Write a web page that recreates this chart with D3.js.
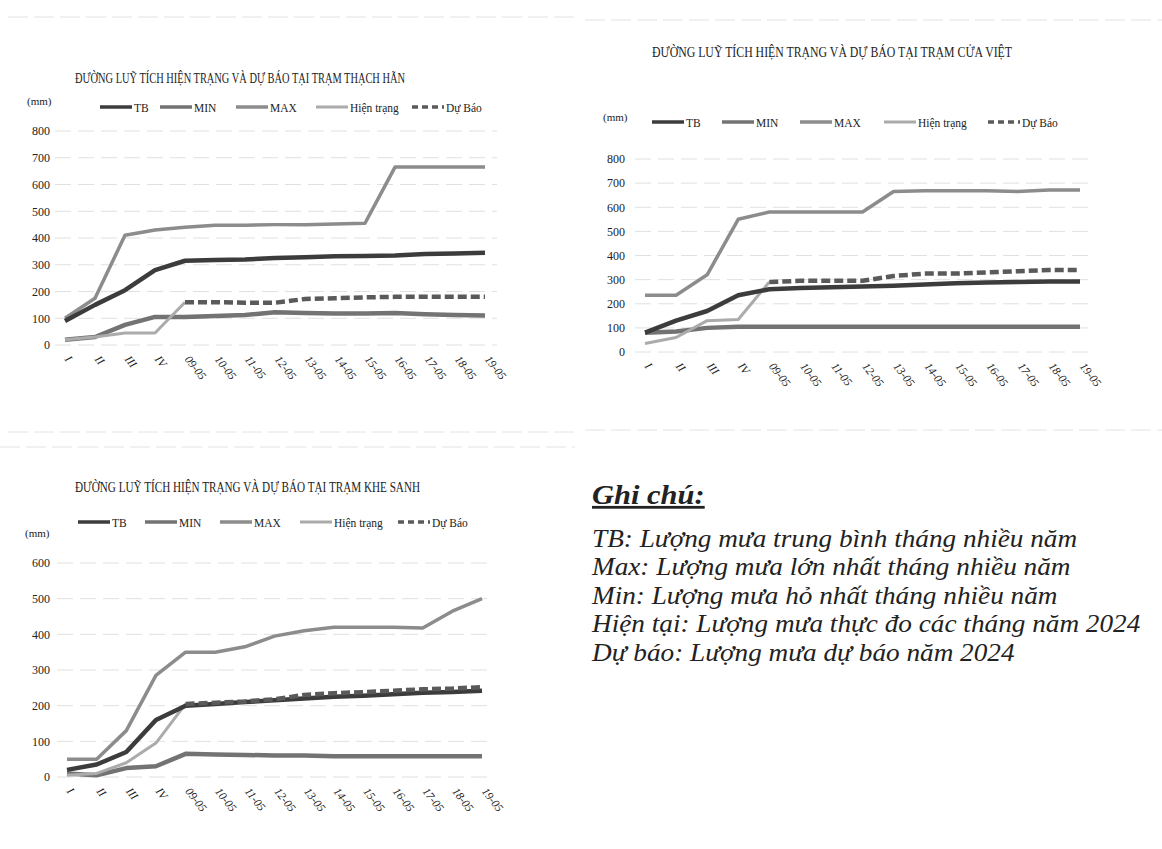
<!DOCTYPE html>
<html>
<head>
<meta charset="UTF-8" />
<title>Đường luỹ tích hiện trạng và dự báo</title>
<script src="https://cdn.jsdelivr.net/npm/d3@7"></script>
<style>
  body { margin: 0; background: #fff; }
  svg { display: block; }
  svg text { font-family: "Liberation Serif", "DejaVu Serif", serif; fill: #222; }
</style>
</head>
<body>
<svg width="1162" height="849"></svg>
<script>
// categories (months I-IV, then days of May)
const categories = ["I", "II", "III", "IV", "09-05", "10-05", "11-05", "12-05", "13-05", "14-05", "15-05", "16-05", "17-05", "18-05", "19-05"];
const seriesNames = ["TB", "MIN", "MAX", "Hiện trạng", "Dự Báo"];

// Thạch Hãn
const thTB  = [90, 150, 205, 280, 315, 318, 320, 325, 328, 332, 333, 335, 340, 342, 345];
const thMIN = [20, 30, 75, 105, 105, 108, 112, 122, 120, 118, 118, 120, 115, 112, 110];
const thMAX = [100, 175, 410, 430, 440, 448, 448, 450, 450, 452, 455, 665, 665, 665, 665];
const thHT  = [20, 30, 45, 45, 160];
const thDB  = [160, 160, 158, 158, 172, 175, 178, 180, 180, 180, 180];
const thTicks = [0, 100, 200, 300, 400, 500, 600, 700, 800];

// Cửa Việt
const cvTB  = [80, 130, 170, 235, 260, 265, 268, 272, 275, 280, 285, 288, 290, 292, 292];
const cvMIN = [80, 85, 100, 105, 105, 105, 105, 105, 105, 105, 105, 105, 105, 105, 105];
const cvMAX = [235, 235, 320, 550, 580, 580, 580, 580, 665, 668, 668, 668, 665, 672, 672];
const cvHT  = [35, 60, 130, 135, 290];
const cvDB  = [290, 295, 295, 295, 315, 325, 325, 330, 335, 340, 340];
const cvTicks = [0, 100, 200, 300, 400, 500, 600, 700, 800];

// Khe Sanh
const ksTB  = [20, 35, 70, 160, 200, 205, 210, 215, 220, 225, 228, 232, 236, 238, 242];
const ksMIN = [10, 5, 25, 30, 65, 63, 62, 60, 60, 58, 58, 58, 58, 58, 58];
const ksMAX = [50, 50, 130, 285, 350, 350, 365, 395, 410, 420, 420, 420, 418, 465, 500];
const ksHT  = [5, 10, 40, 95, 205];
const ksDB  = [205, 208, 212, 218, 230, 235, 238, 242, 246, 248, 252];
const ksTicks = [0, 100, 200, 300, 400, 500, 600];

const noteTitle = "Ghi chú:";
const noteLines = [
  "TB: Lượng mưa trung bình tháng nhiều năm",
  "Max: Lượng mưa lớn nhất tháng nhiều năm",
  "Min: Lượng mưa hỏ nhất tháng nhiều năm",
  "Hiện tại: Lượng mưa thực đo các tháng năm 2024",
  "Dự báo: Lượng mưa dự báo năm 2024"
];

const styles = {
  "TB":         { stroke: "#3c3c3c", width: 4.5, dash: null },
  "MIN":        { stroke: "#737373", width: 4.5, dash: null },
  "MAX":        { stroke: "#8c8c8c", width: 3.5, dash: null },
  "Hiện trạng": { stroke: "#ababab", width: 3,   dash: null },
  "Dự Báo":     { stroke: "#5a5a5a", width: 4.5, dash: "9,4" }
};

const serif = '"Liberation Serif", "DejaVu Serif", serif';
const svg = d3.select("svg");

function drawPanel(p) {
  const g = svg.append("g");
  const x = d3.scalePoint().domain(categories).range([p.x0, p.x1]);
  const y = d3.scaleLinear().domain([0, d3.max(p.ticks)]).range([p.yBase, p.yTop]);

  // gridlines
  g.selectAll("line.grid").data(p.ticks).enter().append("line")
    .attr("x1", p.x0 - 10).attr("x2", p.x1 + 12)
    .attr("y1", d => y(d)).attr("y2", d => y(d))
    .attr("stroke", "#e0e0e0").attr("stroke-width", 1)
    .attr("stroke-dasharray", "16,7");

  // y axis labels
  const yAxis = d3.axisLeft(y).tickValues(p.ticks).tickSize(0).tickPadding(0);
  const ya = g.append("g").attr("transform", `translate(${p.yLabelX},0)`).call(yAxis);
  ya.attr("font-family", null);
  ya.select(".domain").remove();
  ya.selectAll("text").style("font-family", serif).style("font-size", "12px").attr("fill", "#222");

  // x axis labels (rotated)
  const xAxis = d3.axisBottom(x).tickSize(0).tickPadding(0);
  const xa = g.append("g").attr("transform", `translate(0,${p.yBase + 16})`).call(xAxis);
  xa.attr("font-family", null);
  xa.select(".domain").remove();
  xa.selectAll("text")
    .style("font-family", serif).style("font-size", "11.5px").style("font-style", "italic")
    .attr("fill", "#222")
    .attr("text-anchor", "start").attr("dy", "0").attr("y", 0).attr("x", -2)
    .attr("transform", "rotate(52)");

  const line = off => d3.line().x((d, i) => x(categories[i + off])).y(d => y(d));
  const series = [
    { name: "MAX", vals: p.max, off: 0 },
    { name: "MIN", vals: p.min, off: 0 },
    { name: "Hiện trạng", vals: p.ht, off: 0 },
    { name: "TB", vals: p.tb, off: 0 },
    { name: "Dự Báo", vals: p.db, off: 4 }
  ];
  g.selectAll("path.s").data(series).enter().append("path")
    .attr("d", d => line(d.off)(d.vals))
    .attr("fill", "none")
    .attr("stroke", d => styles[d.name].stroke)
    .attr("stroke-width", d => styles[d.name].width)
    .attr("stroke-dasharray", d => styles[d.name].dash)
    .attr("stroke-linejoin", "round");

  // title (condensed like the scan)
  g.append("text").attr("x", p.titleX).attr("y", p.titleY)
    .style("font-size", "14px")
    .attr("textLength", p.titleLen).attr("lengthAdjust", "spacingAndGlyphs")
    .text(p.title);

  // unit
  g.append("text").attr("x", p.unitX).attr("y", p.unitY)
    .style("font-size", "11px").text("(mm)");

  // legend
  const lg = g.selectAll("g.lg").data(seriesNames).enter().append("g")
    .attr("transform", (d, i) => `translate(${p.legendX[i]},${p.legendY})`);
  lg.append("line").attr("x1", 0).attr("x2", 32).attr("y1", 0).attr("y2", 0)
    .attr("stroke", d => styles[d].stroke)
    .attr("stroke-width", d => Math.min(styles[d].width, 3.5))
    .attr("stroke-dasharray", d => d === "Dự Báo" ? "6,4" : null);
  lg.append("text").attr("transform", "translate(34,5) scale(0.85,1)")
    .style("font-size", "13.5px").text(d => d);
}

drawPanel({
  title: "ĐƯỜNG LUỸ TÍCH HIỆN TRẠNG VÀ DỰ BÁO TẠI TRẠM THẠCH HÃN",
  titleX: 75, titleY: 83, titleLen: 330, unitX: 27, unitY: 105,
  legendX: [100, 160, 236, 316, 412], legendY: 107,
  x0: 65, x1: 485, yBase: 345, yTop: 131, yLabelX: 50,
  ticks: thTicks, tb: thTB, min: thMIN, max: thMAX, ht: thHT, db: thDB
});

drawPanel({
  title: "ĐƯỜNG LUỸ TÍCH HIỆN TRẠNG VÀ DỰ BÁO TẠI TRẠM CỬA VIỆT",
  titleX: 652, titleY: 57, titleLen: 360, unitX: 603, unitY: 121,
  legendX: [652, 722, 800, 884, 988], legendY: 122,
  x0: 645, x1: 1080, yBase: 352, yTop: 159, yLabelX: 625,
  ticks: cvTicks, tb: cvTB, min: cvMIN, max: cvMAX, ht: cvHT, db: cvDB
});

drawPanel({
  title: "ĐƯỜNG LUỸ TÍCH HIỆN TRẠNG VÀ DỰ BÁO TẠI TRẠM KHE SANH",
  titleX: 75, titleY: 492, titleLen: 345, unitX: 25, unitY: 537,
  legendX: [78, 145, 220, 300, 398], legendY: 522,
  x0: 67, x1: 482, yBase: 777, yTop: 563, yLabelX: 50,
  ticks: ksTicks, tb: ksTB, min: ksMIN, max: ksMAX, ht: ksHT, db: ksDB
});

// faint scan borders between panels
const borders = [[8, 17, 575, 17], [8, 432, 575, 432], [0, 447, 575, 447], [585, 430, 1162, 430], [585, 20, 1162, 20]];
svg.selectAll("line.b").data(borders).enter().append("line")
  .attr("x1", d => d[0]).attr("y1", d => d[1]).attr("x2", d => d[2]).attr("y2", d => d[3])
  .attr("stroke", "#e2e2e2").attr("stroke-width", 1).attr("stroke-dasharray", "20,6");

// note block (scan is stretched horizontally; kept inside the page)
const note = svg.append("g").attr("transform", "translate(592,0) scale(1.09,1)");
note.append("text").attr("x", 0).attr("y", 504)
  .style("font-size", "28px").style("font-weight", "bold").style("font-style", "italic")
  .style("text-decoration", "underline").text(noteTitle);
note.selectAll("text.n").data(noteLines).enter().append("text")
  .attr("x", 0).attr("y", (d, i) => 547 + i * 28.5)
  .style("font-size", "25px").style("font-style", "italic").text(d => d);
</script>
</body>
</html>
